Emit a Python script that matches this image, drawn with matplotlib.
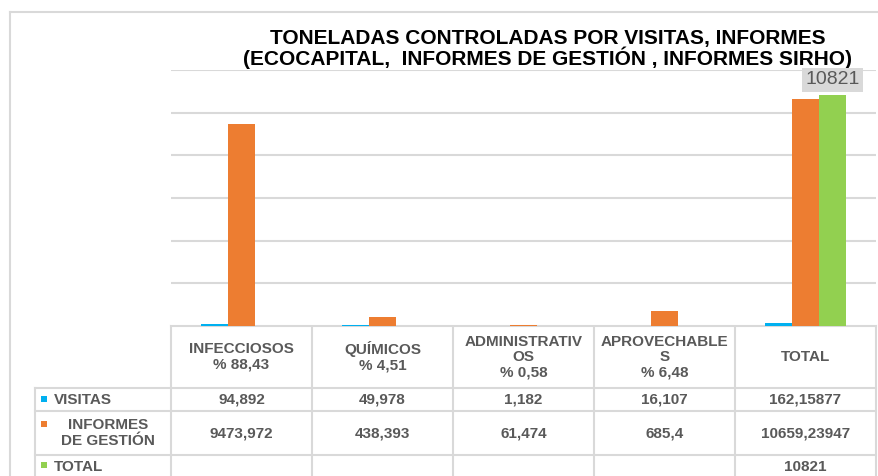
import numpy as np
import matplotlib.pyplot as plt

plt.rcParams['font.family'] = ['Liberation Sans', 'DejaVu Sans']

categorias = ["INFECCIOSOS", "QUÍMICOS", "ADMINISTRATIV\nOS", "APROVECHABLE\nS", "TOTAL"]
porcentajes = ["% 88,43", "% 4,51", "% 0,58", "% 6,48", ""]
series = ["VISITAS", "INFORMES\nDE GESTIÓN", "TOTAL"]
visitas = [94.892, 49.978, 1.182, 16.107, 162.15877]
informes = [9473.972, 438.393, 61.474, 685.4, 10659.23947]
total = [np.nan, np.nan, np.nan, np.nan, 10821]
colores = ["#00b0f0", "#ed7d31", "#92d050"]

titulo = ("TONELADAS CONTROLADAS POR VISITAS, INFORMES\n"
          "(ECOCAPITAL,  INFORMES DE GESTIÓN , INFORMES SIRHO)")


def fmt(v):
    if np.isnan(v):
        return ""
    if float(v).is_integer():
        return str(int(v))
    return str(v).replace('.', ',')


W, H = 879, 476
L, R, B, T = 171, 876, 326, 70
gris = '#d9d9d9'
txt = '#595959'
fs = 11

fig = plt.figure(figsize=(W / 100, H / 100), dpi=100)
ax = fig.add_axes([L / W, 1 - B / H, (R - L) / W, (B - T) / H])

x = np.arange(len(categorias))
w = 0.19
datos = [visitas, informes, total]
for k, (vals, c) in enumerate(zip(datos, colores)):
    ax.bar(x + (k - 1) * w, vals, w, color=c, zorder=3)

ax.set_xlim(-0.5, len(categorias) - 0.5)
ax.set_ylim(0, 12000)
ax.set_yticks(np.arange(0, 12001, 2000))
ax.yaxis.grid(True, color=gris, lw=1.5, zorder=0)
ax.tick_params(left=False, bottom=False, labelleft=False, labelbottom=False)
for s in ax.spines.values():
    s.set_visible(False)

ax.annotate(fmt(total[4]), (4 + w, total[4]), xytext=(0, 5), textcoords='offset points',
            ha='center', va='bottom', fontsize=14, color=txt,
            bbox=dict(fc=gris, ec='none', pad=2.5))

# tabla de datos y marco en pixeles
tb = fig.add_axes([0, 0, 1, 1], zorder=-1)
tb.set_xlim(0, W)
tb.set_ylim(H, 0)
tb.axis('off')

cols = L + (R - L) / len(categorias) * np.arange(len(categorias) + 1)
filas = [326, 388, 411, 455, 500]
x0 = 35

tb.plot([10, 10], [12, 500], color=gris, lw=1.5)
tb.plot([10, 900], [12, 12], color=gris, lw=1.5)
for c in cols:
    tb.plot([c, c], [filas[0], filas[-1]], color=gris, lw=1.5)
tb.plot([L, R], [filas[0], filas[0]], color=gris, lw=1.5)
for f in filas[1:-1]:
    tb.plot([x0, R], [f, f], color=gris, lw=1.5)
tb.plot([x0, x0], [filas[1], filas[-1]], color=gris, lw=1.5)

tb.text(548, 49, titulo, ha='center', va='center', fontsize=15, fontweight='bold',
        color='black', linespacing=0.95)

centros = (cols[:-1] + cols[1:]) / 2
for i, cx in enumerate(centros):
    t = categorias[i] + ("\n" + porcentajes[i] if porcentajes[i] else "")
    tb.text(cx, 357, t, ha='center', va='center', fontsize=fs, fontweight='bold',
            color=txt, linespacing=1.1)

ys = [399.5, 433, 467]
for j, (vals, c) in enumerate(zip(datos, colores)):
    for i, cx in enumerate(centros):
        tb.text(cx, ys[j], fmt(vals[i]), ha='center', va='center', fontsize=fs,
                fontweight='bold', color=txt)

tb.plot([44.5], [399], marker='s', ms=5, color=colores[0], mew=0)
tb.text(54, 399.5, series[0], ha='left', va='center', fontsize=fs, fontweight='bold', color=txt)
tb.plot([44.5], [424], marker='s', ms=5, color=colores[1], mew=0)
tb.text(108, 433, series[1], ha='center', va='center', fontsize=fs, fontweight='bold',
        color=txt, linespacing=1.1)
tb.plot([44.5], [465], marker='s', ms=5, color=colores[2], mew=0)
tb.text(54, 467, series[2], ha='left', va='center', fontsize=fs, fontweight='bold', color=txt)

fig.savefig('out.png', dpi=100)
